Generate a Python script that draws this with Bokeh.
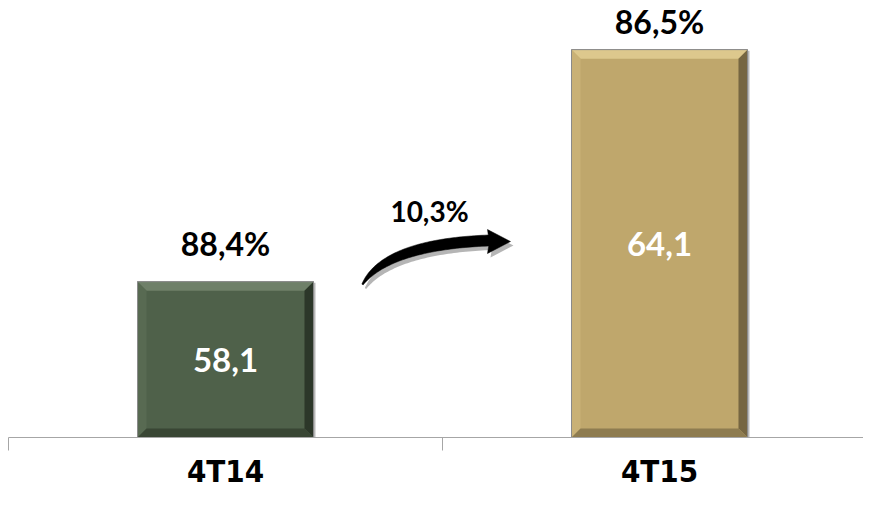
import numpy as np
from bokeh.plotting import figure
from bokeh.models import LinearAxis, FixedTicker, Range1d, ColumnDataSource
from bokeh.core.properties import value
from bokeh.embed import file_html
from bokeh.resources import INLINE

# ---- data ----
categories = ["4T14", "4T15"]
values = [58.1, 64.1]
value_labels = ["58,1", "64,1"]
share_labels = ["88,4%", "86,5%"]
growth_label = "10,3%"
axis_min = 54.07

# ---- styles ----
bar_colors = ["#4F614A", "#BFA76C"]
bevel_top = ["#6F8069", "#DDC88D"]
bevel_left = ["#586A52", "#C9B176"]
bevel_right = ["#2C3729", "#766641"]
bevel_bottom = ["#394634", "#8E7C50"]

W, H = 863, 489
ppx = 434.0                      # px per category
x_start = -0.5 - 8 / ppx
x_end = x_start + W / ppx
axis_px = 437                    # vertical pixel of the category axis
px_per_unit = 38.67
y_end = axis_min + axis_px / px_per_unit
y_start = axis_min - (H - axis_px) / px_per_unit


def dx(px):
    return px / ppx


def dy(px):
    return px / px_per_unit


def to_data(X, Y):
    return x_start + X / ppx, y_end - Y / px_per_unit


p = figure(width=W, height=H, output_backend="svg", toolbar_location=None,
           x_range=Range1d(x_start, x_end), y_range=Range1d(y_start, y_end),
           x_axis_location=None, y_axis_location=None,
           min_border_left=0, min_border_right=0, min_border_top=0, min_border_bottom=0)
p.outline_line_color = None
p.xgrid.visible = False
p.ygrid.visible = False
p.background_fill_color = "white"
p.border_fill_color = "white"

xs_idx = list(range(len(categories)))
bar_width = 0.4055
hw = bar_width / 2

# shadow
p.quad(left=[i - hw + dx(2) for i in xs_idx], right=[i + hw + dx(2) for i in xs_idx],
       top=[v - dy(1) for v in values], bottom=[axis_min] * len(values),
       fill_color="#9A9A9A", fill_alpha=0.7, line_color=None)

src = ColumnDataSource(dict(x=xs_idx, top=values, color=bar_colors))
p.vbar(x="x", top="top", bottom=axis_min, width=bar_width, source=src,
       fill_color="color", line_color="#9A9A9A", line_width=1)

# bevels
bx, by = dx(9), dy(9)
pxs, pys, pcs = [], [], []
for i, v in zip(xs_idx, values):
    L, R, T, B = i - hw, i + hw, v, axis_min
    pxs.append([L, R, R - bx, L + bx]); pys.append([T, T, T - by, T - by]); pcs.append(bevel_top[i])
    pxs.append([L, L, L + bx, L + bx]); pys.append([T, B, B + by, T - by]); pcs.append(bevel_left[i])
    pxs.append([R, R, R - bx, R - bx]); pys.append([T, B, B + by, T - by]); pcs.append(bevel_right[i])
    pxs.append([L, R, R - bx, L + bx]); pys.append([B, B, B + by, B + by]); pcs.append(bevel_bottom[i])
p.patches(xs=pxs, ys=pys, fill_color=pcs, line_color=None)
p.vbar(x=xs_idx, top=values, bottom=axis_min, width=bar_width,
       fill_color=None, line_color="#8A8A8A", line_width=1)

# value labels inside bars
p.text(x=xs_idx, y=[(axis_min + v) / 2 for v in values], text=value_labels,
       text_font=value("Lato"), text_font_style="bold", text_font_size="33px",
       text_color="white", text_align="center", text_baseline="middle")

# share labels above bars (kept inside the plot area, as the original does)
share_y = [min(v + dy(38), y_end - dy(21)) for v in values]
p.text(x=xs_idx, y=share_y, text=share_labels,
       text_font=value("Lato"), text_font_style="bold", text_font_size="32px",
       text_color="black", text_align="center", text_baseline="middle")

# growth arrow (annotation between the two bars)
u = np.linspace(0, 1, 60)
P0, P1, P2 = np.array([362.0, 284.0]), np.array([386.0, 244.0]), np.array([488.0, 240.0])
cx = (1 - u) ** 2 * P0[0] + 2 * (1 - u) * u * P1[0] + u ** 2 * P2[0]
cy = (1 - u) ** 2 * P0[1] + 2 * (1 - u) * u * P1[1] + u ** 2 * P2[1]
tx = 2 * (1 - u) * (P1[0] - P0[0]) + 2 * u * (P2[0] - P1[0])
ty = 2 * (1 - u) * (P1[1] - P0[1]) + 2 * u * (P2[1] - P1[1])
nrm = np.hypot(tx, ty)
nx, ny = -ty / nrm, tx / nrm
thick = 1.5 + 9.5 * (1 - (1 - u) ** 3)
ax1, ay1 = cx + nx * thick / 2, cy + ny * thick / 2
ax2, ay2 = cx - nx * thick / 2, cy - ny * thick / 2
if ay2[-1] > ay1[-1]:
    head = ([487, 510, 487], [253, 241, 229])
else:
    head = ([487, 510, 487], [229, 241, 253])
arrow_X = list(ax2) + head[0] + list(ax1[::-1])
arrow_Y = list(ay2) + head[1] + list(ay1[::-1])
sh = [to_data(X + 3, Y + 4) for X, Y in zip(arrow_X, arrow_Y)]
p.patch(x=[a for a, b in sh], y=[b for a, b in sh], fill_color="#9C9C9C", fill_alpha=0.75, line_color=None)
ar = [to_data(X, Y) for X, Y in zip(arrow_X, arrow_Y)]
p.patch(x=[a for a, b in ar], y=[b for a, b in ar], fill_color="black", line_color="black", line_width=0.5)

gx, gy = to_data(429, 210)
p.text(x=[gx], y=[gy], text=[growth_label], text_font=value("Lato"), text_font_style="bold",
       text_font_size="28px", text_color="black", text_align="center", text_baseline="middle")

# category axis
xaxis = LinearAxis(fixed_location=axis_min, bounds=(-0.5, 1.5),
                   ticker=FixedTicker(ticks=xs_idx, minor_ticks=[-0.5, 0.5, 1.5]))
xaxis.major_label_overrides = {i: c for i, c in zip(xs_idx, categories)}
xaxis.axis_line_color = "#A6A6A6"
xaxis.axis_line_width = 1
xaxis.major_tick_line_color = None
xaxis.major_tick_out = 0
xaxis.major_tick_in = 0
xaxis.minor_tick_line_color = "#A6A6A6"
xaxis.minor_tick_out = 13
xaxis.minor_tick_in = 0
xaxis.major_label_text_font = "'Liberation Sans Narrow', 'DejaVu Sans Condensed', 'Roboto', sans-serif"
xaxis.major_label_text_font_style = "bold"
xaxis.major_label_text_font_size = "31px"
xaxis.major_label_text_color = "black"
xaxis.major_label_standoff = 2
p.add_layout(xaxis, "below")

open("out.html", "w").write(file_html(p, INLINE))
